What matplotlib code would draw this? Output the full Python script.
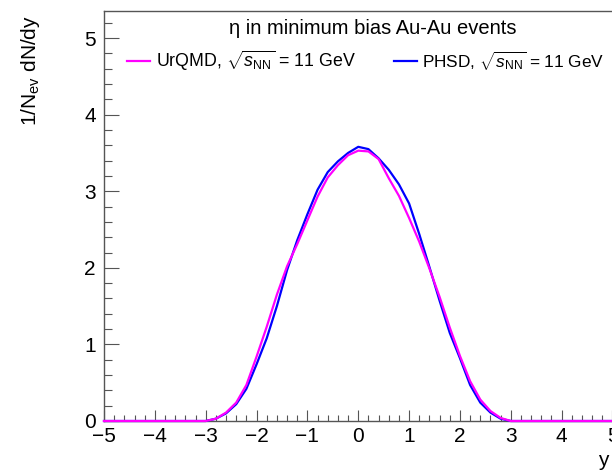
import numpy as np
import matplotlib
matplotlib.use("Agg")
import matplotlib.pyplot as plt

plt.rcParams['font.family'] = ['Liberation Sans', 'DejaVu Sans']
plt.rcParams['mathtext.fontset'] = 'custom'
plt.rcParams['mathtext.rm'] = 'Liberation Sans'
plt.rcParams['mathtext.it'] = 'Liberation Sans:italic'

# rapidite (points de l'histogramme)
y_vals = [-5.0, -4.0, -3.2, -3.0, -2.8, -2.6, -2.4, -2.2, -2.0, -1.8, -1.6, -1.4, -1.2,
          -1.0, -0.8, -0.6, -0.4, -0.2, 0.0, 0.2, 0.4, 0.6, 0.8, 1.0, 1.2,
          1.4, 1.6, 1.8, 2.0, 2.2, 2.4, 2.6, 2.8, 3.0, 3.2, 4.0, 5.0]

# PHSD, sqrt(sNN) = 11 GeV
phsd = [0, 0, 0, 0, 0.03, 0.10, 0.22, 0.42, 0.74, 1.08, 1.50, 1.97, 2.36,
        2.70, 3.02, 3.25, 3.39, 3.50, 3.58, 3.55, 3.43, 3.28, 3.09, 2.84, 2.44,
        2.01, 1.57, 1.15, 0.82, 0.47, 0.24, 0.11, 0.03, 0, 0, 0, 0]

# UrQMD, sqrt(sNN) = 11 GeV
urqmd = [0, 0, 0, 0, 0.03, 0.11, 0.24, 0.47, 0.84, 1.23, 1.65, 2.02, 2.31,
         2.62, 2.93, 3.18, 3.34, 3.47, 3.53, 3.52, 3.42, 3.17, 2.94, 2.65, 2.34,
         1.99, 1.62, 1.22, 0.85, 0.52, 0.28, 0.13, 0.04, 0, 0, 0, 0]

fig = plt.figure(figsize=(6.12, 4.74), dpi=100)
ax = fig.add_axes([104 / 612, 53 / 474, 508.5 / 612, 410.5 / 474])

ax.plot(y_vals, phsd, color='#0000ff', linewidth=1.6, clip_on=False, zorder=3)
ax.plot(y_vals, urqmd, color='#ff00ff', linewidth=1.6, clip_on=False, zorder=4)

ax.set_xlim(-5, 5)
ax.set_ylim(0, 5.36)
ax.set_xticks(np.arange(-5, 6, 1))
ax.set_xticks(np.arange(-5, 5.01, 0.2), minor=True)
ax.set_yticks(np.arange(0, 6, 1))
ax.set_yticks(np.arange(0, 5.3, 0.2), minor=True)

ax.spines['right'].set_visible(False)
for s in ['left', 'bottom', 'top']:
    ax.spines[s].set_color('#555555')
    ax.spines[s].set_linewidth(1.0)

ax.tick_params(axis='x', which='major', direction='in', length=8, width=0.8,
               color='#555555', labelsize=15, pad=4, top=False)
ax.tick_params(axis='x', which='minor', direction='in', length=4.3, width=0.8,
               color='#555555', top=False)
ax.tick_params(axis='y', which='major', direction='in', length=11, width=0.8,
               color='#555555', labelsize=15, pad=6, right=False)
ax.tick_params(axis='y', which='minor', direction='in', length=5.5, width=0.8,
               color='#555555', right=False)

fig.text(373 / 612, 1 - 28 / 474, 'η in minimum bias Au-Au events',
         ha='center', va='center', fontsize=14.5)

# legende faite a la main (style ROOT)
ax.plot([0.045, 0.09], [0.876, 0.876], transform=ax.transAxes, color='#ff00ff', linewidth=1.6)
ax.text(0.103, 0.876, r'UrQMD, $\sqrt{s_{\mathrm{NN}}}$ = 11 GeV', transform=ax.transAxes,
        ha='left', va='center', fontsize=12.8)
ax.plot([0.57, 0.615], [0.876, 0.876], transform=ax.transAxes, color='#0000ff', linewidth=1.6)
ax.text(0.626, 0.876, r'PHSD, $\sqrt{s_{\mathrm{NN}}}$ = 11 GeV', transform=ax.transAxes,
        ha='left', va='center', fontsize=12.4)

fig.text(30 / 612, 1 - 15 / 474, r'1/N$_{\mathrm{ev}}$ dN/dy', rotation=90,
         ha='center', va='top', fontsize=15)
fig.text(1 - 3 / 612, 1 - 460 / 474, 'y', ha='right', va='center', fontsize=15)
fig.text(-12 / 612, 1 - 420 / 474, '5', ha='left', va='center', fontsize=15)

plt.savefig('out.png')
